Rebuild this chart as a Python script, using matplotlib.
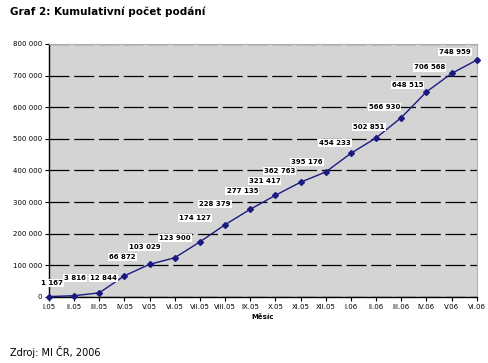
import matplotlib
matplotlib.use("Agg")
import matplotlib.pyplot as plt
from matplotlib.ticker import FuncFormatter

# data
months = ["I.05", "II.05", "III.05", "IV.05", "V.05", "VI.05", "VII.05", "VIII.05",
          "IX.05", "X.05", "XI.05", "XII.05", "I.06", "II.06", "III.06", "IV.06",
          "V.06", "VI.06"]
cumulative = [1167, 3816, 12844, 66872, 103029, 123900, 174127, 228379, 277135,
              321417, 362763, 395176, 454233, 502851, 566930, 648515, 706568, 748959]

# label offsets in pixels (dx, dy), as placed in the original
label_offsets = [(3, 14), (1, 18), (4, 15), (-2, 19), (-5, 17), (0, 20), (-5, 24),
                 (-10, 21), (-8, 18), (-11, 14), (-21, 11), (-19, 10), (-16, 10),
                 (-7, 11), (-17, 11), (-19, 7), (-22, 6), (-22, 8)]


def space_thousands(v, pos=None):
    return "{:,}".format(int(v)).replace(",", " ")


plt.rcParams["hatch.color"] = "#ececec"
plt.rcParams["hatch.linewidth"] = 0.6

fig = plt.figure(figsize=(4.89, 3.63), dpi=100)
ax = fig.add_axes([0.100, 0.182, 0.875, 0.697])
ax.set_facecolor("#d4d4d4")
ax.patch.set_hatch("....")

x = list(range(len(months)))
ax.plot(x, cumulative, color="#1a1a80", lw=1.0, marker="D", markersize=3.0,
        markerfacecolor="#1a1a80", markeredgecolor="#1a1a80", zorder=4, clip_on=False)

for xi, yi, (dx, dy) in zip(x, cumulative, label_offsets):
    ax.annotate(space_thousands(yi), (xi, yi), xytext=(dx, dy),
                textcoords="offset pixels", ha="center", va="center",
                fontsize=5, fontweight="bold", color="black", zorder=5,
                bbox=dict(boxstyle="square,pad=0.15", fc="white", ec="none"))

ax.set_xlim(0, 17)
ax.set_ylim(0, 800000)
ax.set_xticks(x)
ax.set_xticklabels(months)
ax.set_yticks(range(0, 800001, 100000))
ax.yaxis.set_major_formatter(FuncFormatter(space_thousands))
ax.tick_params(axis="both", labelsize=5, length=3, width=0.8, pad=2)

ax.yaxis.grid(True, color="black", linestyle=(0, (16, 3.8)), lw=0.9)
ax.set_axisbelow(True)

for s in ["top", "right"]:
    ax.spines[s].set_color("#b0b0b0")
    ax.spines[s].set_linewidth(0.8)
for s in ["left", "bottom"]:
    ax.spines[s].set_color("black")
    ax.spines[s].set_linewidth(1.0)

ax.set_xlabel("Měsíc", fontsize=5, fontweight="bold", labelpad=3)

fig.text(0.020, 0.967, "Graf 2: Kumulativní počet podání", fontsize=7.5,
         fontweight="bold", ha="left", va="center")
fig.text(0.020, 0.030, "Zdroj: MI ČR, 2006", fontsize=7, ha="left", va="center")

fig.savefig("out.png", dpi=100)
